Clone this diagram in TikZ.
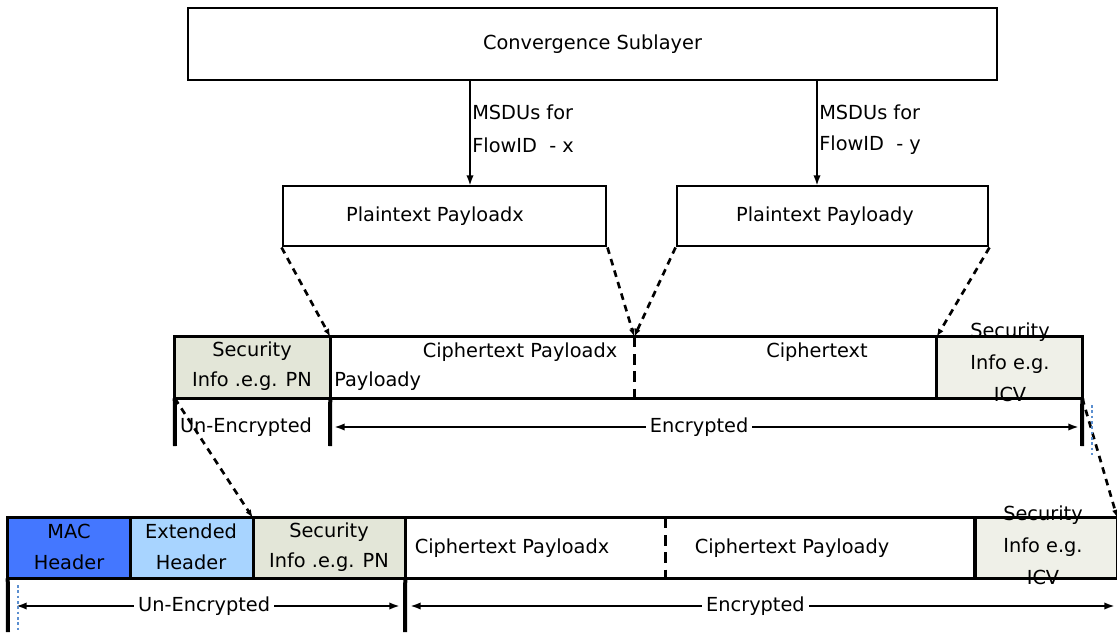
\documentclass[tikz,border=0pt]{standalone}
\usepackage{fontspec}
\setmainfont{DejaVu Sans}
\usetikzlibrary{arrows.meta,fit}
\definecolor{macblue}{HTML}{4477FF}
\definecolor{extblue}{HTML}{A8D4FF}
\definecolor{secgray}{HTML}{E3E6D8}
\definecolor{icvgray}{HTML}{EFF0E8}
\definecolor{selblue}{HTML}{5B8FD0}
\begin{document}
\begin{tikzpicture}[x=0.75pt,y=-0.75pt,
  box/.style={draw, line width=2.2pt, inner sep=0pt},
  cell/.style={inner sep=0pt},
  txt/.style={inner sep=0pt, align=center, font=\fontsize{14.5}{23}\selectfont},
  txt3/.style={inner sep=0pt, align=center, font=\fontsize{14.5}{24}\selectfont},
  flow/.style={-{Latex[length=8pt,width=5.5pt]}, line width=1.8pt},
  dashlink/.style={dash pattern=on 5pt off 4pt, line width=2pt, -{Latex[length=6pt,width=4.5pt]}},
  spanarrow/.style={{Latex[length=8pt,width=5.5pt]}-{Latex[length=8pt,width=5.5pt]}, line width=1.8pt},
  border/.style={line width=2.2pt},
  divider/.style={line width=2pt, dash pattern=on 8pt off 5pt},
  bar/.style={line width=3pt},
  handle/.style={selblue, dotted, line width=2pt}
]
\useasboundingbox (0,0) rectangle (1117,632);

% top
\node[box, fit={(188,8) (997,80)}] (cs) {};
\node[txt] (cst) at (cs.center) {Convergence Sublayer};
\coordinate (a1) at (470,186);
\coordinate (a2) at (817,186);
\node[box, fit={(283,186) (606,246)}] (ptx) {};
\node[txt] (ptxt) at (435,216) {Plaintext Payloadx};
\node[box, fit={(677,186) (988,246)}] (pty) {};
\node[txt] (ptyt) at (825,216) {Plaintext Payloady};
\draw[flow] (cs.south -| a1) -- (a1);
\draw[flow] (cs.south -| a2) -- (a2);
\node[txt, anchor=west] (m1) at (472,112) {MSDUs for};
\node[txt, anchor=west] (f1) at (472,145) {FlowID\ \ - x};
\node[txt, anchor=west] (m2) at (819,112) {MSDUs for};
\node[txt, anchor=west] (f2) at (819,145) {FlowID\ \ - y};

% middle row
\node[cell, fill=secgray, fit={(175,337) (330,398)}] (s1) {};
\node[cell, fit={(330,337) (634,398)}] (c1) {};
\node[cell, fit={(634,337) (937,398)}] (c2) {};
\node[cell, fill=icvgray, fit={(937,337) (1082,398)}] (i1) {};
\draw[border] (s1.north west) rectangle (i1.south east);
\draw[border] (s1.north east) -- (s1.south east);
\draw[border] (i1.north west) -- (i1.south west);
\draw[divider] (c1.north east) -- (c1.south east);
\node[txt] (s1t) at (252,366) {Security\\Info .e.g. PN};
\node[txt3] (i1t) at (1010,362) {Security\\Info e.g.\\ICV};
\node[txt] (t1) at (520,352) {Ciphertext Payloadx};
\node[txt, anchor=west] (t2) at (334,381) {Payloady};
\node[txt] (t3) at (817,352) {Ciphertext};

% dashed links from plaintext
\draw[dashlink] (ptx.south west) -- (s1.north east);
\draw[dashlink] (ptx.south east) -- (c1.north east);
\draw[dashlink] (pty.south west) -- (c1.north east);
\draw[dashlink] (pty.south east) -- (i1.north west);

% middle span
\coordinate (b1) at (175,446);
\coordinate (b2) at (330,446);
\coordinate (b3) at (1082,446);
\draw[bar] (s1.south west) -- (b1);
\draw[bar] (s1.south east) -- (b2);
\draw[bar] (i1.south east) -- (b3);
\coordinate (e1) at (334,427);
\coordinate (e2) at (1079,427);
\node[txt] (u1) at (246,427) {Un-Encrypted};
\draw[spanarrow] (e1) -- (e2) node[pos=0.49, fill=white, inner sep=3pt, font=\fontsize{14.5}{23}\selectfont] (en1) {Encrypted};

% bottom row
\node[cell, fill=macblue, fit={(8,518) (130,578)}] (mac) {};
\node[cell, fill=extblue, fit={(130,518) (253,578)}] (ext) {};
\node[cell, fill=secgray, fit={(253,518) (405,578)}] (s2) {};
\node[cell, fit={(405,518) (665,578)}] (c3) {};
\node[cell, fit={(665,518) (975,578)}] (c4) {};
\node[cell, fill=icvgray, fit={(975,518) (1117,578)}] (i2) {};
\draw[border] (mac.north west) rectangle (i2.south east);
\draw[border] (mac.north east) -- (mac.south east);
\draw[border] (ext.north east) -- (ext.south east);
\draw[border] (s2.north east) -- (s2.south east);
\draw[line width=3pt] (i2.north west) -- (i2.south west);
\draw[divider, line width=2.5pt] (c3.north east) -- (c3.south east);
\node[txt] (mact) at (69,547) {MAC\\Header};
\node[txt] (extt) at (191,547) {Extended\\Header};
\node[txt] (s2t) at (329,547) {Security\\Info .e.g. PN};
\node[txt3] (i2t) at (1043,545) {Security\\Info e.g.\\ICV};
\node[txt] (t4) at (512,548) {Ciphertext Payloadx};
\node[txt] (t5) at (792,548) {Ciphertext Payloady};

% dashed links to bottom row
\draw[dashlink] (s1.south west) -- (s2.north west);
\draw[dashlink] (i1.south east) -- (i2.north east);

% bottom span
\coordinate (b4) at (8,632);
\coordinate (b5) at (405,632);
\draw[bar] (mac.south west) -- (b4);
\draw[bar] (s2.south east) -- (b5);
\coordinate (e3) at (16,606);
\coordinate (e4) at (400,606);
\coordinate (e5) at (410,606);
\coordinate (e6) at (1115,606);
\draw[spanarrow] (e3) -- (e4) node[pos=0.49, fill=white, inner sep=3pt, font=\fontsize{14.5}{23}\selectfont] (un2) {Un-Encrypted};
\draw[spanarrow] (e5) -- (e6) node[pos=0.49, fill=white, inner sep=3pt, font=\fontsize{14.5}{23}\selectfont] (en2) {Encrypted};

% selection handles
\coordinate (h1) at (1092,405);
\coordinate (h2) at (1092,455);
\coordinate (h3) at (18,585);
\coordinate (h4) at (18,632);
\draw[handle] (h1) -- (h2);
\draw[handle] (h3) -- (h4);
\end{tikzpicture}
\end{document}
